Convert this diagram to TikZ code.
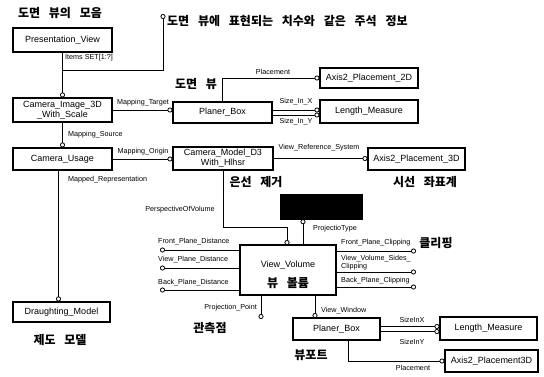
\documentclass[tikz,border=0pt]{standalone}
\usepackage{fontspec}
\setmainfont{Liberation Sans}
\newfontfamily\kr[WordSpace=3.2]{Noto Sans CJK KR}
\usetikzlibrary{arrows.meta,calc}
\begin{document}
\begin{tikzpicture}[x=1pt,y=-1pt,
  ent/.style={draw,line width=1.1pt,fill=white,inner sep=1pt,align=center,font=\fontsize{9}{10}\selectfont},
  lab/.style={inner sep=0pt,font=\fontsize{7.2}{8}\selectfont},
  krl/.style={inner sep=0pt,font=\kr\bfseries\fontsize{12}{14}\selectfont},
  con/.style={line width=0.8pt},
  circ/.style={con,-{Circle[open,length=5pt,width=5pt]}},
  rcirc/.style={con,{Circle[open,length=5pt,width=5pt]}-}]
\path[use as bounding box] (0,0) rectangle (544,376);

% entity boxes
\node[ent,minimum width=99pt,minimum height=24pt] (pv) at (62.5,40) {Presentation\_View};
\node[ent,minimum width=99pt,minimum height=24pt] (ci) at (62.5,110) {Camera\_Image\_3D\\\_With\_Scale};
\node[ent,minimum width=99pt,minimum height=22pt] (cu) at (62.5,159) {Camera\_Usage};
\node[ent,minimum width=97pt,minimum height=20pt] (dm) at (61.5,312) {Draughting\_Model};
\node[ent,minimum width=99pt,minimum height=21pt] (pb1) at (222.5,112.5) {Planer\_Box};
\node[ent,minimum width=98pt,minimum height=20pt] (a2d) at (369,78) {Axis2\_Placement\_2D};
\node[ent,minimum width=98pt,minimum height=23pt] (lm1) at (369,111.5) {Length\_Measure};
\node[ent,minimum width=100pt,minimum height=23pt] (cm) at (223,158.5) {Camera\_Model\_D3\\With\_Hlhsr};
\node[ent,minimum width=97pt,minimum height=22pt] (a3d) at (416.5,159) {Axis2\_Placement\_3D};
\node[draw,fill=black,minimum width=82pt,minimum height=25pt,inner sep=0pt] (blk) at (321,206.5) {};
\node[ent,minimum width=96pt,minimum height=50pt] (vv) at (288,270) {};
\node[inner sep=0pt,align=center,font=\fontsize{9}{10}\selectfont] (vvt) at (288,265) {View\_Volume};
\node[krl] (vvk) at (288,283) {뷰 볼륨};
\node[ent,minimum width=87pt,minimum height=22pt] (pb2) at (336.5,329) {Planer\_Box};
\node[ent,minimum width=97pt,minimum height=23pt] (lm2) at (488.5,328.5) {Length\_Measure};
\node[ent,minimum width=93pt,minimum height=22pt] (a3d2) at (491.5,361) {Axis2\_Placement3D};

% Korean labels
\node[krl] (k1) at (60,13) {도면 뷰의 모음};
\node[krl,anchor=west] (k2) at (167,21) {도면 뷰에 표현되는 치수와 같은 주석 정보};
\node[krl] (k3) at (196,84) {도면 뷰};
\node[krl] (k4) at (256,182) {은선 제거};
\node[krl] (k5) at (425,182) {시선 좌표계};
\node[krl] (k6) at (436,243) {클리핑};
\node[krl] (k7) at (210,328) {관측점};
\node[krl] (k8) at (311,355) {뷰포트};
\node[krl] (k9) at (60,340) {제도 모델};

% coordinates
\coordinate (j1) at (62,70);
\coordinate (ann) at (163,14);
\coordinate (c2) at (287,245);
\coordinate (c3) at (303,245);
\coordinate (fpd) at (160,250);
\coordinate (vpd) at (160,268);
\coordinate (bpd) at (160,290);
\coordinate (pp) at (261,319);
\coordinate (fpc) at (416,251);
\coordinate (vsc) at (416,272);
\coordinate (bpc) at (416,287);
\coordinate (vw) at (315,318);

% connectors
\draw[circ] (pv.south) -- (ci.north);
\draw[circ] (j1) -| (ann);
\node[lab,anchor=west] (l1) at (65,58) {Items SET[1:?]};

\draw[circ] (ci.east) -- (ci.east -| pb1.west);
\node[lab] (l2) at (143,103) {Mapping\_Target};

\draw[circ] (pb1.north) |- (a2d.west);
\node[lab] (l3) at (273,72) {Placement};

\draw[circ] ([yshift=2.5pt]pb1.east) -- ([yshift=2.5pt]pb1.east -| lm1.west);
\draw[circ] ([yshift=-2.5pt]pb1.east) -- ([yshift=-2.5pt]pb1.east -| lm1.west);
\node[lab] (l4) at (296,102) {Size\_In\_X};
\node[lab] (l5) at (296,122) {Size\_In\_Y};

\draw[circ] (ci.south) -- (cu.north);
\node[lab,anchor=west] (l6) at (68,135) {Mapping\_Source};

\draw[circ] (cu.east) -- (cu.east -| cm.west);
\node[lab] (l7) at (143,152) {Mapping\_Origin};

\draw[circ] (cm.east) -- (cm.east -| a3d.west);
\node[lab] (l8) at (319,148) {View\_Reference\_System};

\draw[circ] ([xshift=-4pt]cu.south) -- ([xshift=-3pt]dm.north);
\node[lab,anchor=west] (l9) at (68,180) {Mapped\_Representation};

\draw[circ] (cm.south) -- ++(0,57) -| (c2);
\node[lab] (l10) at (180,210) {PerspectiveOfVolume};

\draw[rcirc] (blk.south -| c3) -- (c3);
\node[lab,anchor=west] (l11) at (313,229) {ProjectioType};

\draw[rcirc] (fpd) -- (fpd -| vv.west);
\draw[rcirc] (vpd) -- (vpd -| vv.west);
\draw[rcirc] (bpd) -- (bpd -| vv.west);
\node[lab,anchor=west] (l12) at (158,242) {Front\_Plane\_Distance};
\node[lab,anchor=west] (l13) at (158,260) {View\_Plane\_Distance};
\node[lab,anchor=west] (l14) at (158,283) {Back\_Plane\_Distance};

\draw[circ] (vv.south -| pp) -- (pp);
\node[lab,anchor=east] (l15) at (257,308) {Projection\_Point};

\draw[circ] (fpc -| vv.east) -- (fpc);
\draw[circ] (vsc -| vv.east) -- (vsc);
\draw[circ] (bpc -| vv.east) -- (bpc);
\node[lab,anchor=west] (l16) at (341,243) {Front\_Plane\_Clipping};
\node[lab,anchor=north west,align=left] (l17) at (341,255) {View\_Volume\_Sides\_\\Clipping};
\node[lab,anchor=west] (l18) at (341,281) {Back\_Plane\_Clipping};

\draw[circ] (vv.south -| vw) -- (vw);
\node[lab,anchor=west] (l19) at (321,311) {View\_Window};

\draw[circ] ([yshift=2.5pt]pb2.east) -- ([yshift=2.5pt]pb2.east -| lm2.west);
\draw[circ] ([yshift=-2.5pt]pb2.east) -- ([yshift=-2.5pt]pb2.east -| lm2.west);
\node[lab] (l20) at (412,320) {SizeInX};
\node[lab] (l21) at (412,342) {SizeInY};

\draw[circ] ([xshift=11.5pt]pb2.south) |- (a3d2.west);
\node[lab] (l22) at (413,368) {Placement};
\end{tikzpicture}
\end{document}
